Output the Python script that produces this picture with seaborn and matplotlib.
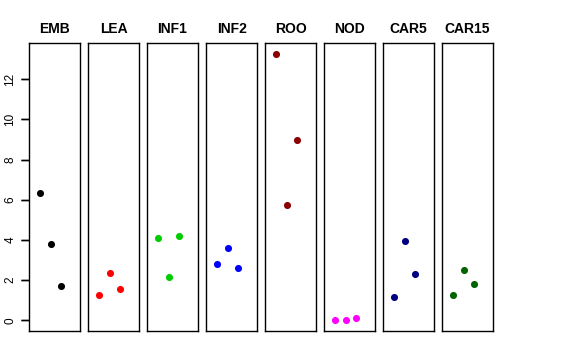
import seaborn as sns
import pandas as pd
import numpy as np
import matplotlib.pyplot as plt

plt.rcParams['font.family'] = ['Liberation Sans', 'DejaVu Sans']
plt.rcParams['text.color'] = 'black'
plt.rcParams['ytick.left'] = True
plt.rcParams['ytick.direction'] = 'out'

tissues = ["EMB", "LEA", "INF1", "INF2", "ROO", "NOD", "CAR5", "CAR15"]
colors = ["#000000", "#FF0000", "#00CD00", "#0000FF",
          "#8B0000", "#FF00FF", "#000080", "#006400"]
reps = [1, 2, 3]
emb = [6.34, 3.82, 1.71]
lea = [1.28, 2.36, 1.58]
inf1 = [4.12, 2.18, 4.19]
inf2 = [2.78, 3.61, 2.59]
roo = [13.27, 5.75, 8.99]
nod = [0.0, 0.0, 0.1]
car5 = [1.16, 3.95, 2.31]
car15 = [1.25, 2.52, 1.83]
yticks = [0, 2, 4, 6, 8, 10, 12]

values = [emb, lea, inf1, inf2, roo, nod, car5, car15]
df = pd.DataFrame({
    "tissue": np.repeat(tissues, len(reps)),
    "rep": reps * len(tissues),
    "value": np.concatenate(values),
})

fig, axes = plt.subplots(1, len(tissues), figsize=(5.76, 3.6), dpi=100)
fig.subplots_adjust(left=29 / 576, right=493 / 576, bottom=29 / 360, top=317 / 360,
                    wspace=8 / 51)

ymax = df["value"].max()
for ax, t, c in zip(axes, tissues, colors):
    sub = df[df["tissue"] == t]
    sns.scatterplot(data=sub, x="rep", y="value", color=c, s=26, linewidth=0, ax=ax)
    ax.set_xlim(-0.05, 4.8)
    ax.set_ylim(-0.04 * ymax, ymax * 1.04)
    ax.set_xticks([])
    ax.set_xlabel("")
    ax.set_ylabel("")
    ax.set_title(t, fontsize=10, fontweight="bold", pad=7, color="black")
    for s in ax.spines.values():
        s.set_visible(True)
        s.set_color("black")
        s.set_linewidth(1.0)
    ax.set_yticks([])

ax0 = axes[0]
ax0.set_yticks(yticks)
ax0.tick_params(axis="y", which="major", left=True, right=False, length=6,
                width=1.0, direction="out", labelsize=8.5, labelrotation=90,
                pad=3, color="black", labelcolor="black")
for lab in ax0.get_yticklabels():
    lab.set_verticalalignment("center")

# the left tick marks did not render, so draw them along the y-axis transform
ytr = ax0.get_yaxis_transform()
for v in yticks:
    ax0.plot([-0.16, 0], [v, v], transform=ytr, clip_on=False,
             color="black", linewidth=1.0, solid_capstyle="butt")

plt.savefig("out.png", dpi=100)
